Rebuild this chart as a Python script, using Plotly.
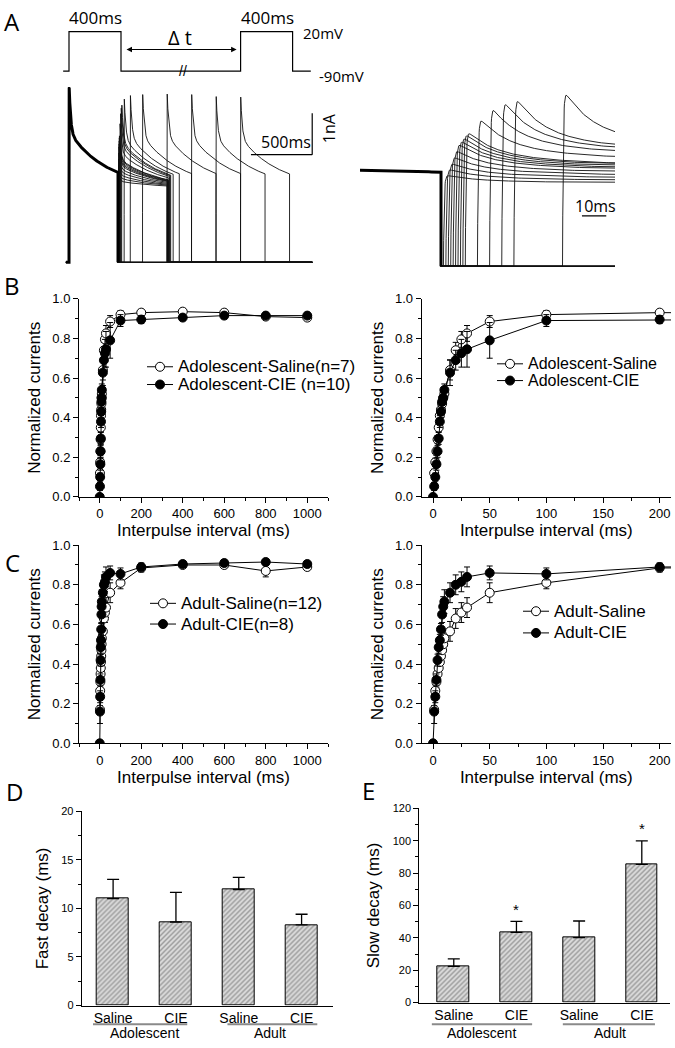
import numpy as np
import plotly.graph_objects as go

W, H = 675, 1048

# ---------------- Data ----------------
interval_saline = [1, 2, 3, 4, 5, 6, 7, 8, 9, 10, 15, 20, 25, 30, 50, 100, 200, 400, 600, 800, 1000]
interval_cie = [0] + interval_saline

adol_saline_mean = [0.12, 0.175, 0.23, 0.29, 0.35, 0.41, 0.44, 0.47, 0.50, 0.52, 0.64, 0.74, 0.795, 0.825,
                    0.885, 0.92, 0.93, 0.935, 0.93, 0.91, 0.905]
adol_saline_sem = [0.02, 0.02, 0.02, 0.02, 0.02, 0.02, 0.02, 0.03, 0.03, 0.03, 0.05, 0.04, 0.04, 0.04,
                   0.03, 0.02, 0.015, 0.015, 0.015, 0.01, 0.01]
adol_cie_mean = [0.0, 0.053, 0.10, 0.165, 0.23, 0.295, 0.38, 0.43, 0.48, 0.50, 0.54, 0.627, 0.69, 0.725,
                 0.745, 0.79, 0.89, 0.895, 0.905, 0.915, 0.915, 0.915]
adol_cie_sem = [0.0, 0.02, 0.02, 0.03, 0.03, 0.03, 0.03, 0.03, 0.03, 0.03, 0.03, 0.065, 0.05, 0.07,
                0.09, 0.09, 0.03, 0.02, 0.015, 0.015, 0.01, 0.01]

adult_saline_mean = [0.17, 0.265, 0.31, 0.35, 0.38, 0.41, 0.44, 0.47, 0.50, 0.53, 0.565, 0.63, 0.66, 0.685,
                     0.76, 0.81, 0.885, 0.90, 0.90, 0.87, 0.89]
adult_saline_sem = [0.02, 0.03, 0.03, 0.03, 0.03, 0.03, 0.03, 0.04, 0.04, 0.04, 0.05, 0.05, 0.05, 0.05,
                    0.05, 0.03, 0.02, 0.015, 0.015, 0.03, 0.01]
adult_cie_mean = [0.0, 0.16, 0.235, 0.32, 0.42, 0.485, 0.52, 0.575, 0.65, 0.69, 0.715, 0.76, 0.80, 0.815,
                  0.84, 0.86, 0.855, 0.89, 0.905, 0.91, 0.915, 0.905]
adult_cie_sem = [0.0, 0.06, 0.03, 0.03, 0.03, 0.03, 0.03, 0.03, 0.04, 0.05, 0.06, 0.05, 0.05, 0.05,
                 0.05, 0.035, 0.03, 0.02, 0.015, 0.015, 0.01, 0.01]

age_groups = ["Adolescent", "Adolescent", "Adult", "Adult"]
treatments = ["Saline", "CIE", "Saline", "CIE"]
fast_decay_mean = [11.0, 8.6, 11.95, 8.3]
fast_decay_sem = [2.0, 3.05, 1.25, 1.1]
slow_decay_mean = [22.4, 43.3, 40.1, 85.4]
slow_decay_sem = [4.6, 6.9, 10.3, 14.5]
slow_significant = [False, True, False, True]

# Voltage protocol (schematic, ms / mV)
protocol_t = [-45, 0, 0, 400, 400, 1320, 1320, 1720, 1720, 1860]
protocol_v = [-90, -90, 20, 20, -90, -90, 20, 20, -90, -90]

# Example recording (panel A): sweeps at the same intervals, recovery taken from adolescent saline
sweep_intervals = interval_saline
sweep_recovery = adol_saline_mean
I_STEADY, A_SLOW, TAU_SLOW, A_FAST, TAU_FAST, TAU_ACT = 1.80, 1.354, 308.0, 1.25, 12.0, 0.3
PULSE_MS = 400.0


def pulse_current(t, r):
    t = np.asarray(t)
    act = 1 - np.exp(-t / TAU_ACT)
    return act * (I_STEADY + r * (A_SLOW * np.exp(-t / TAU_SLOW) + A_FAST * np.exp(-t / TAU_FAST)))


t_pulse = np.concatenate([np.arange(0, 30, 0.1), np.arange(30, PULSE_MS, 1.0), [PULSE_MS]])
sx, sy = [], []
for dt, r in zip(sweep_intervals, sweep_recovery):
    t2 = PULSE_MS + dt
    xs = np.concatenate([[-25, 0], t_pulse, [PULSE_MS, t2], t2 + t_pulse, [t2 + PULSE_MS, 1985]])
    ys = np.concatenate([[0, 0], pulse_current(t_pulse, 1.0), [0, 0], pulse_current(t_pulse, r), [0, 0]])
    sx += list(xs) + [None]
    sy += list(ys) + [None]
first_x = list(np.concatenate([[-25, 0], t_pulse, [PULSE_MS]]))
first_y = list(np.concatenate([[0, 0], pulse_current(t_pulse, 1.0), [0]]))

# ---------------- helpers ----------------
def xd(a, b):
    return [a / W, b / W]


def yd(top, bottom):
    return [1 - bottom / H, 1 - top / H]


def px(x):
    return x / W


def py(y):
    return 1 - y / H


FONT = "Liberation Sans, Arial, sans-serif"
LFONT = "Open Sans, Liberation Sans, sans-serif"

fig = go.Figure()

# ---------------- Panel A ----------------
fig.add_trace(go.Scatter(x=protocol_t, y=protocol_v, mode="lines", line=dict(color="black", width=1.2),
                         xaxis="x5", yaxis="y5", showlegend=False, hoverinfo="skip"))
for xa, ya in (("x6", "y6"), ("x7", "y7")):
    fig.add_trace(go.Scatter(x=sx, y=sy, mode="lines", line=dict(color="#111", width=0.9),
                             xaxis=xa, yaxis=ya, showlegend=False, hoverinfo="skip"))
    fig.add_trace(go.Scatter(x=first_x, y=first_y, mode="lines", line=dict(color="black", width=3),
                             xaxis=xa, yaxis=ya, showlegend=False, hoverinfo="skip"))

# ---------------- Panels B, C ----------------
series = [
    ("x", "y", interval_saline, adol_saline_mean, adol_saline_sem, False),
    ("x", "y", interval_cie, adol_cie_mean, adol_cie_sem, True),
    ("x2", "y2", interval_saline, adol_saline_mean, adol_saline_sem, False),
    ("x2", "y2", interval_cie, adol_cie_mean, adol_cie_sem, True),
    ("x3", "y3", interval_saline, adult_saline_mean, adult_saline_sem, False),
    ("x3", "y3", interval_cie, adult_cie_mean, adult_cie_sem, True),
    ("x4", "y4", interval_saline, adult_saline_mean, adult_saline_sem, False),
    ("x4", "y4", interval_cie, adult_cie_mean, adult_cie_sem, True),
]
for xa, ya, xv, yv, ev, filled in series:
    fig.add_trace(go.Scatter(
        x=xv, y=yv, mode="lines+markers", xaxis=xa, yaxis=ya, showlegend=False,
        line=dict(color="black", width=1),
        marker=dict(symbol="circle", size=9, color="black" if filled else "white",
                    line=dict(color="black", width=1)),
        error_y=dict(type="data", array=ev, color="black", thickness=1, width=3),
    ))

# ---------------- Panels D, E ----------------
bar_pos = list(range(len(treatments)))
bar_marker = dict(color="#dcdcdc", line=dict(color="black", width=1),
                  pattern=dict(shape="/", fgcolor="#5a5a5a", bgcolor="#dcdcdc", size=3.5, solidity=0.42))
for xa, ya, mv, ev in (("x8", "y8", fast_decay_mean, fast_decay_sem), ("x9", "y9", slow_decay_mean, slow_decay_sem)):
    fig.add_trace(go.Bar(x=bar_pos, y=mv, width=0.51, marker=bar_marker, xaxis=xa, yaxis=ya, showlegend=False,
                         error_y=dict(type="data", array=ev, arrayminus=[0] * len(ev), symmetric=False,
                                      color="black", thickness=1.3, width=6)))

# ---------------- Axes ----------------
common = dict(showline=True, linecolor="black", linewidth=1, ticks="outside", ticklen=5, tickwidth=1,
              tickcolor="black", showgrid=False, zeroline=False, tickfont=dict(size=13, color="black"))
hidden = dict(visible=False, showgrid=False, zeroline=False)

lay = dict(
    width=W, height=H, margin=dict(l=0, r=0, t=0, b=0), plot_bgcolor="white", paper_bgcolor="white",
    font=dict(family=FONT, color="black"), showlegend=False, bargap=0,
)
xtitle = dict(text="Interpulse interval (ms)", font=dict(size=17), standoff=3)
ytitle = dict(text="Normalized currents", font=dict(size=17), standoff=7)
panels = [("", xd(79, 328), yd(296, 497), [-100, 1100], 200, 100),
          ("2", xd(421.7, 671), yd(296, 497), [-10, 210], 50, 25),
          ("3", xd(79, 328), yd(546, 747), [-100, 1100], 200, 100),
          ("4", xd(421.7, 671), yd(546, 747), [-10, 210], 50, 25)]
for sfx, xdom, ydom, xr, dt, mdt in panels:
    lay["xaxis" + sfx] = dict(common, domain=xdom, range=xr, dtick=dt, tick0=0, anchor="y" + sfx,
                              minor=dict(ticks="outside", ticklen=3, dtick=mdt, tick0=0, tickcolor="black"),
                              title=xtitle)
    lay["yaxis" + sfx] = dict(common, domain=ydom, range=[0, 1.0], dtick=0.2, tick0=0, tickformat=".1f",
                              anchor="x" + sfx,
                              minor=dict(ticks="outside", ticklen=3, dtick=0.1, tick0=0, tickcolor="black"),
                              title=ytitle)

lay["xaxis5"] = dict(hidden, domain=xd(60, 320), range=[-69.2, 1930.8], anchor="y5")
lay["yaxis5"] = dict(hidden, domain=yd(0, 80), range=[-131.25, 88.75], anchor="x5")
lay["xaxis6"] = dict(hidden, domain=xd(60, 335), range=[-73.5, 2171], anchor="y6")
lay["yaxis6"] = dict(hidden, domain=yd(80, 268), range=[-0.214, 4.262], anchor="x6")
lay["xaxis7"] = dict(hidden, domain=xd(360, 615), range=[366.67, 471.6], anchor="y7")
lay["yaxis7"] = dict(hidden, domain=yd(85, 270), range=[-0.159, 4.045], anchor="x7")

bar_x = dict(showline=True, linecolor="black", linewidth=1, ticks="", showgrid=False, zeroline=False,
             tickvals=bar_pos, ticktext=treatments, tickfont=dict(size=14, color="black"))
bar_y = dict(common, tickfont=dict(size=11, color="black"))
lay["xaxis8"] = dict(bar_x, domain=xd(81.7, 333), range=[-0.5, 3.5], anchor="y8")
lay["yaxis8"] = dict(bar_y, domain=yd(816, 1013), range=[0, 20], dtick=5, tick0=0, anchor="x8",
                     minor=dict(ticks="outside", ticklen=3, dtick=2.5, tick0=0, tickcolor="black"),
                     title=dict(text="Fast decay (ms)", font=dict(size=17), standoff=8))
lay["xaxis9"] = dict(bar_x, domain=xd(419.3, 670), range=[-0.55, 3.45], anchor="y9")
lay["yaxis9"] = dict(bar_y, domain=yd(813, 1010), range=[0, 120], dtick=20, tick0=0, anchor="x9",
                     minor=dict(ticks="outside", ticklen=3, dtick=10, tick0=0, tickcolor="black"),
                     title=dict(text="Slow decay (ms)", font=dict(size=17), standoff=8))

shapes, ann = [], []


def text(t, x, y, size, xanchor="center", family=FONT, angle=0):
    ann.append(dict(text=t, x=px(x), y=py(y), xref="paper", yref="paper", xanchor=xanchor, yanchor="middle",
                    showarrow=False, textangle=angle, font=dict(size=size, family=family, color="black")))


# panel letters
for letter, x, y in (("A", 12, 15), ("B", 12, 283), ("C", 12, 564), ("D", 14, 796), ("E", 368, 795)):
    text(letter, x, y, 24, family=LFONT)

# protocol labels
text("400ms", 95, 11, 17, family=LFONT)
text("400ms", 267, 11, 17, family=LFONT)
text("20mV", 301, 26, 15, xanchor="left", family=LFONT)
text("-90mV", 317, 70, 15, xanchor="left", family=LFONT)
text("Δ t", 180, 31, 20, family=LFONT)
ann.append(dict(x=PULSE_MS + 920, y=-30, ax=PULSE_MS, ay=-30, xref="x5", yref="y5", axref="x5", ayref="y5",
                text="", showarrow=True, arrowhead=2, arrowside="end+start", arrowsize=1, arrowwidth=1.1,
                standoff=4, startstandoff=4, arrowcolor="black"))
ann.append(dict(x=880, y=-90, xref="x5", yref="y5", text="//", showarrow=False,
                font=dict(size=14, color="black", family=FONT)))

# scale bars
shapes.append(dict(type="line", xref="x6", yref="y6", x0=1485, x1=1985, y0=2.6, y1=2.6, line=dict(color="black", width=1.2)))
shapes.append(dict(type="line", xref="x6", yref="y6", x0=1985, x1=1985, y0=2.6, y1=3.6, line=dict(color="black", width=1.2)))
text("500ms", 286, 137, 16, family=LFONT)
text("1nA", 329, 123, 16, family=LFONT, angle=-90)
shapes.append(dict(type="line", xref="x7", yref="y7", x0=458, x1=468, y0=1.16, y1=1.16, line=dict(color="black", width=1.2)))
text("10ms", 595, 202, 16, family=LFONT)


# legends
def legend_row(x_sym, y_px, filled, label, size=17):
    yp = py(y_px)
    shapes.append(dict(type="line", xref="paper", yref="paper", x0=px(x_sym), x1=px(x_sym + 26), y0=yp, y1=yp,
                       line=dict(color="black", width=1)))
    shapes.append(dict(type="circle", xref="paper", yref="paper", xsizemode="pixel", ysizemode="pixel",
                       xanchor=px(x_sym + 13), yanchor=yp, x0=-4.5, x1=4.5, y0=-4.5, y1=4.5,
                       fillcolor="black" if filled else "white", line=dict(color="black", width=1)))
    text(label, x_sym + 29, y_px, size, xanchor="left")


legend_row(147, 365, False, "Adolescent-Saline(n=7)")
legend_row(147, 383, True, "Adolescent-CIE (n=10)")
legend_row(497, 362, False, "Adolescent-Saline", 16)
legend_row(497, 379, True, "Adolescent-CIE", 16)
legend_row(150, 605, False, "Adult-Saline(n=12)")
legend_row(150, 626, True, "Adult-CIE(n=8)")
legend_row(523, 613, False, "Adult-Saline")
legend_row(523, 635, True, "Adult-CIE")

# group labels under bars
for xa, spans, centers in (("x8", [(-0.32, 1.18), (1.82, 3.25)], [0.5, 2.5]),
                           ("x9", [(-0.35, 1.25), (1.74, 3.21)], [0.45, 2.49])):
    for (a, b) in spans:
        shapes.append(dict(type="line", xref=xa, yref="paper", x0=a, x1=b, y0=py(1032), y1=py(1032),
                           line=dict(color="#8a8a8a", width=2)))
    groups_unique = list(dict.fromkeys(age_groups))
    for g, c in zip(groups_unique, centers):
        ann.append(dict(text=g, x=c, y=py(1041), xref=xa, yref="paper", yanchor="middle", showarrow=False,
                        font=dict(size=14, color="black")))

# significance marks
for i, sig in enumerate(slow_significant):
    if sig:
        ann.append(dict(text="*", x=bar_pos[i], y=slow_decay_mean[i] + slow_decay_sem[i] + 1, xref="x9", yref="y9",
                        yanchor="bottom", showarrow=False, font=dict(size=15, color="black")))

lay["shapes"] = shapes
lay["annotations"] = ann
fig.update_layout(**lay)
fig.write_html("out.html", config={"displayModeBar": False},
               post_script="document.documentElement.style.margin='0px';document.body.style.margin='0px';"
                           "document.documentElement.style.overflow='hidden';document.body.style.overflow='hidden';")
